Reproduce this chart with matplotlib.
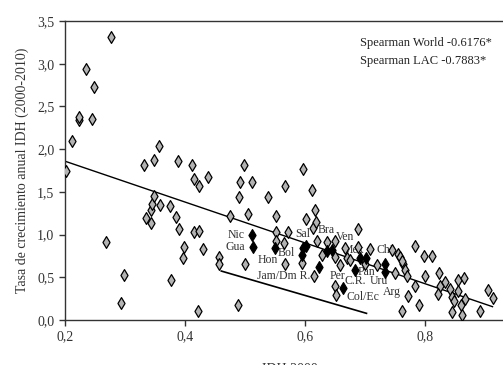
import matplotlib
matplotlib.use("Agg")
import matplotlib.pyplot as plt
from matplotlib.ticker import FuncFormatter

plt.rcParams['font.family'] = ['Liberation Serif', 'DejaVu Serif']

# World countries (gray)
world_x = [0.202, 0.212, 0.223, 0.224, 0.236, 0.245, 0.249, 0.269, 0.277, 0.294,
           0.299, 0.332, 0.336, 0.343, 0.344, 0.346, 0.349, 0.349, 0.358, 0.359,
           0.375, 0.378, 0.386, 0.389, 0.391, 0.398, 0.399, 0.412, 0.416, 0.415,
           0.423, 0.424, 0.424, 0.430, 0.439, 0.457, 0.457, 0.476, 0.489, 0.490,
           0.492, 0.499, 0.500, 0.505, 0.513, 0.539, 0.552, 0.552, 0.552, 0.566,
           0.567, 0.567, 0.572, 0.596, 0.597, 0.602, 0.613, 0.614, 0.616, 0.618,
           0.619, 0.620, 0.628, 0.637, 0.650, 0.651, 0.651, 0.652, 0.659, 0.667,
           0.670, 0.676, 0.689, 0.689, 0.700, 0.709, 0.720, 0.745, 0.750, 0.755,
           0.759, 0.764, 0.767, 0.770, 0.763, 0.763, 0.773, 0.783, 0.784, 0.791,
           0.799, 0.800, 0.813, 0.824, 0.825, 0.823, 0.834, 0.842, 0.845, 0.845,
           0.849, 0.855, 0.856, 0.861, 0.862, 0.866, 0.867, 0.892, 0.905, 0.914]
world_y = [1.75, 2.09, 2.34, 2.38, 2.94, 2.35, 2.73, 0.91, 3.31, 0.20,
           0.53, 1.82, 1.19, 1.29, 1.14, 1.36, 1.45, 1.87, 2.04, 1.35,
           1.34, 0.47, 1.20, 1.86, 1.06, 0.72, 0.86, 1.81, 1.65, 1.03,
           0.10, 1.04, 1.57, 0.83, 1.67, 0.74, 0.65, 1.22, 0.17, 1.44,
           1.62, 1.82, 0.65, 1.24, 1.61, 1.44, 1.22, 1.03, 0.92, 0.90,
           1.57, 0.66, 1.03, 0.67, 1.77, 1.18, 1.52, 1.08, 0.51, 1.29,
           1.15, 0.92, 0.76, 0.91, 0.92, 0.74, 0.40, 0.29, 0.64, 0.84,
           0.72, 0.70, 1.06, 0.86, 0.66, 0.83, 0.64, 0.82, 0.55, 0.77,
           0.74, 0.65, 0.59, 0.51, 0.10, 0.69, 0.28, 0.40, 0.87, 0.17,
           0.75, 0.51, 0.75, 0.55, 0.40, 0.31, 0.45, 0.36, 0.27, 0.09,
           0.22, 0.47, 0.34, 0.18, 0.06, 0.49, 0.25, 0.11, 0.35, 0.26]

# Latin America & Caribbean countries (black)
lac_x = [0.513, 0.514, 0.550, 0.597, 0.595, 0.603, 0.624, 0.637, 0.645, 0.664,
         0.683, 0.693, 0.702, 0.734, 0.734]
lac_y = [1.00, 0.86, 0.84, 0.84, 0.76, 0.87, 0.62, 0.81, 0.82, 0.38,
         0.59, 0.73, 0.72, 0.65, 0.56]

# Trend lines (endpoints)
world_fit_x = [0.200, 0.913]
world_fit_y = [1.86, 0.156]
lac_fit_x = [0.461, 0.703]
lac_fit_y = [0.573, 0.078]

# Country labels
label_text = ["Nic", "Gua", "Hon", "Bol", "Jam/Dm R.", "Sal", "Bra", "Ven", "Mex",
              "Chi", "Pan", "Per", "C.R.", "Uru", "Arg", "Col/Ec"]
label_x = [0.500, 0.501, 0.556, 0.584, 0.609, 0.584, 0.621, 0.652, 0.664,
           0.720, 0.689, 0.641, 0.667, 0.709, 0.731, 0.670]
label_y = [1.00, 0.86, 0.70, 0.78, 0.51, 1.01, 1.05, 0.97, 0.82,
           0.82, 0.565, 0.515, 0.46, 0.46, 0.33, 0.27]
label_ha = ["right", "right", "right", "right", "right", "left", "left", "left", "left",
            "left", "left", "left", "left", "left", "left", "left"]

yticks = [0.0, 0.5, 1.0, 1.5, 2.0, 2.5, 3.0, 3.5]
xticks = [0.2, 0.4, 0.6, 0.8]

fig = plt.figure(figsize=(5.03, 3.65), dpi=100)
ax = fig.add_axes([64.7 / 503, 45 / 365, 450 / 503, 299 / 365])

ax.plot(world_fit_x, world_fit_y, color='black', lw=1.0, zorder=2)
ax.plot(lac_fit_x, lac_fit_y, color='black', lw=1.2, zorder=2)

for t, x, y, ha in zip(label_text, label_x, label_y, label_ha):
    ax.text(x, y, t, ha=ha, va='center', fontsize=8.5, color='#333333', zorder=2.5)

ax.scatter(world_x, world_y, marker='d', s=36, facecolor='#b3b3b3',
           edgecolor='black', linewidth=0.9, zorder=3)
ax.scatter(lac_x, lac_y, marker='d', s=36, facecolor='black',
           edgecolor='black', linewidth=0.9, zorder=4)

ax.set_xlim(0.2, 0.95)
ax.set_ylim(0, 3.5)
ax.set_xticks(xticks)
ax.set_yticks(yticks)
fmt = FuncFormatter(lambda v, p: f"{v:.1f}".replace('.', ','))
ax.xaxis.set_major_formatter(fmt)
ax.yaxis.set_major_formatter(fmt)
ax.tick_params(direction='out', length=4, width=1, labelsize=10, colors='#333333')
for s in ['left', 'bottom', 'top']:
    ax.spines[s].set_color('#333333')
    ax.spines[s].set_linewidth(1.0)
ax.spines['right'].set_visible(False)

ax.set_xlabel("IDH 2000", fontsize=10, color='#333333', labelpad=14)
ax.set_ylabel("Tasa de crecimiento anual IDH (2000-2010)", fontsize=10,
              color='#333333', labelpad=6)

fig.text(360 / 503, 1 - 43 / 365, "Spearman World -0.6176*", fontsize=9,
         va='center', ha='left', color='#222222')
fig.text(360 / 503, 1 - 61 / 365, "Spearman LAC -0.7883*", fontsize=9,
         va='center', ha='left', color='#222222')

fig.savefig("out.png", dpi=100)
